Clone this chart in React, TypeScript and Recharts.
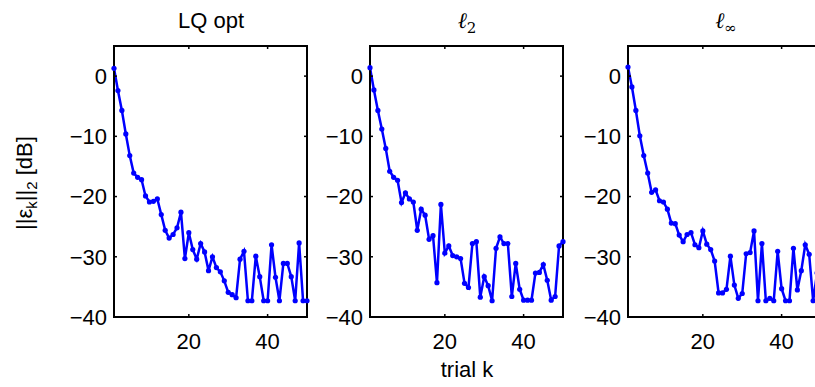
import React, { useMemo } from "react";
import { Line, LineChart, ReferenceArea, XAxis, YAxis } from "recharts";

// trial index k
const trials = [
  1, 2, 3, 4, 5, 6, 7, 8, 9, 10, 11, 12, 13, 14, 15, 16, 17, 18, 19, 20, 21, 22, 23, 24, 25,
  26, 27, 28, 29, 30, 31, 32, 33, 34, 35, 36, 37, 38, 39, 40, 41, 42, 43, 44, 45, 46, 47, 48, 49, 50,
];

// ||e_k||_2 in dB
const lqOpt = [
  1.3, -2.4, -5.7, -9.6, -13.2, -16.1, -16.8, -17.2, -19.9, -20.9,
  -20.8, -20.4, -23.0, -25.6, -26.9, -26.3, -25.2, -22.6, -30.3, -26.0,
  -28.8, -30.4, -27.8, -29.2, -32.3, -30.0, -31.8, -32.5, -34.0, -35.9,
  -36.3, -36.8, -30.4, -29.1, -37.3, -37.3, -29.9, -33.3, -37.3, -37.3,
  -28.0, -33.4, -37.3, -31.1, -31.1, -33.3, -37.3, -27.7, -37.3, -37.3,
];

const l2 = [
  1.4, -2.3, -5.7, -8.8, -12.0, -15.8, -16.8, -17.3, -21.0, -19.4,
  -20.4, -20.9, -25.6, -22.1, -23.1, -27.1, -26.5, -34.3, -21.3, -29.4,
  -28.2, -29.8, -30.0, -30.3, -34.4, -35.1, -27.8, -27.5, -36.7, -33.3,
  -34.8, -37.3, -28.6, -26.7, -27.8, -27.8, -36.6, -31.1, -35.4, -37.2,
  -37.2, -37.2, -32.7, -32.6, -31.3, -33.9, -37.2, -36.6, -28.2, -27.5,
];

const lInf = [
  1.5, -1.8, -5.7, -9.9, -13.2, -16.1, -19.3, -18.9, -20.7, -20.9,
  -22.1, -24.4, -24.5, -26.4, -27.5, -26.3, -26.0, -28.0, -28.5, -25.7,
  -27.9, -28.8, -30.7, -36.0, -36.0, -35.4, -29.9, -34.7, -36.9, -36.1,
  -29.5, -29.3, -25.7, -37.3, -27.8, -37.3, -36.9, -37.3, -29.1, -35.3,
  -37.3, -37.3, -28.6, -35.5, -32.3, -28.0, -29.6, -37.3, -32.7, -30.0,
];

const xTicks = [20, 40];
const yTicks = [-40, -30, -20, -10, 0];

const FONT = "'Liberation Sans', Arial, Helvetica, sans-serif";
const axisStroke = { stroke: "#000", strokeWidth: 2 };
const tickStroke = { stroke: "#000", strokeWidth: 1.5 };
const tickText = { fontSize: 22, fill: "#000", fontFamily: FONT };
const blank = () => "";
const fmtY = (v: number) => (v < 0 ? `\u2212${Math.abs(v)}` : `${v}`);

function Panel({ values, left }: { values: number[]; left: number }) {
  const data = useMemo(() => trials.map((k, i) => ({ k, v: values[i] })), [values]);

  return (
    <LineChart
      width={274}
      height={387}
      data={data}
      margin={{ top: 45, right: 20, bottom: 0, left: 0 }}
      style={{ position: "absolute", left: left - 60, top: 0 }}
    >
      <XAxis
        xAxisId="b"
        dataKey="k"
        type="number"
        domain={[1, 50]}
        ticks={xTicks}
        interval={0}
        height={70}
        tickSize={-3}
        tickMargin={19}
        axisLine={axisStroke}
        tickLine={tickStroke}
        tick={tickText}
      />
      <XAxis
        xAxisId="t"
        orientation="top"
        dataKey="k"
        type="number"
        domain={[1, 50]}
        ticks={xTicks}
        interval={0}
        height={1}
        tickSize={-3}
        axisLine={axisStroke}
        tickLine={tickStroke}
        tickFormatter={blank}
      />
      <YAxis
        yAxisId="l"
        type="number"
        domain={[-40, 5]}
        ticks={yTicks}
        interval={0}
        width={60}
        tickSize={-3}
        tickMargin={10}
        axisLine={axisStroke}
        tickLine={tickStroke}
        tick={tickText}
        tickFormatter={fmtY}
      />
      <YAxis
        yAxisId="r"
        orientation="right"
        type="number"
        domain={[-40, 5]}
        ticks={yTicks}
        interval={0}
        width={1}
        tickSize={-3}
        axisLine={axisStroke}
        tickLine={tickStroke}
        tickFormatter={blank}
      />
      {/* box frame, in case the mirror axes are not drawn */}
      <ReferenceArea
        xAxisId="b"
        yAxisId="l"
        x1={1}
        x2={50}
        y1={-40}
        y2={5}
        stroke="#000"
        strokeWidth={2}
        fill="none"
        fillOpacity={0}
        ifOverflow="visible"
      />
      {/* invisible copy so the mirror axes get a domain */}
      <Line
        xAxisId="t"
        yAxisId="r"
        dataKey="v"
        stroke="none"
        dot={false}
        activeDot={false}
        legendType="none"
        isAnimationActive={false}
      />
      <Line
        xAxisId="b"
        yAxisId="l"
        dataKey="v"
        stroke="#0000ff"
        strokeWidth={2.5}
        dot={{ r: 2.6, fill: "#0000ff", stroke: "#0000ff", strokeWidth: 0 }}
        isAnimationActive={false}
      />
    </LineChart>
  );
}

export default function App() {
  return (
    <div
      style={{
        position: "absolute",
        left: 0,
        top: 0,
        width: 815,
        height: 387,
        overflow: "hidden",
        background: "#fff",
      }}
    >
      <Panel values={lqOpt} left={114} />
      <Panel values={l2} left={370} />
      <Panel values={lInf} left={628} />

      <svg
        width={815}
        height={387}
        style={{ position: "absolute", left: 0, top: 0, pointerEvents: "none" }}
      >
        <text x={211} y={28} textAnchor="middle" fontSize={22} fontFamily={FONT}>
          LQ opt
        </text>
        <text x={467} y={28} textAnchor="middle" fontSize={22} fontStyle="italic" fontFamily="'DejaVu Serif', serif">
          {"\u2113"}
          <tspan fontSize={15} fontStyle="normal" dy={5}>2</tspan>
        </text>
        <text x={726} y={28} textAnchor="middle" fontSize={22} fontStyle="italic" fontFamily="'DejaVu Serif', serif">
          {"\u2113"}
          <tspan fontSize={15} fontStyle="normal" dy={5}>{"\u221e"}</tspan>
        </text>
        <text
          transform="translate(32,183) rotate(-90)"
          textAnchor="middle"
          fontSize={22}
          fontFamily={FONT}
        >
          {"||\u03b5"}
          <tspan fontSize={15} dy={5}>k</tspan>
          <tspan dy={-5}>||</tspan>
          <tspan fontSize={15} dy={5}>2</tspan>
          <tspan dy={-5}> [dB]</tspan>
        </text>
        <text x={467} y={377} textAnchor="middle" fontSize={22} fontFamily={FONT}>
          trial k
        </text>
      </svg>
    </div>
  );
}
